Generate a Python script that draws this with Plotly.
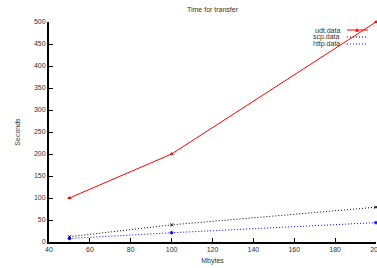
import plotly.graph_objects as go

mbytes = [50, 100, 200]
udt = [100, 200, 500]
scp = [12, 39, 79]
http = [8, 21, 44]
series_names = ["udt.data", "scp.data", "http.data"]
x_ticks = [40, 60, 80, 100, 120, 140, 160, 180, 200]
y_ticks = [0, 50, 100, 150, 200, 250, 300, 350, 400, 450, 500]

FONT = "Liberation Sans, Arial, sans-serif"
TXT = "#333333"
DOT = "1px,2px"

fig = go.Figure()
fig.add_trace(go.Scatter(x=mbytes, y=udt, name=series_names[0], mode="lines+markers",
                         line=dict(color="#ff0000", width=1),
                         marker=dict(symbol="triangle-up", size=4, color="#ff0000"),
                         cliponaxis=False))
fig.add_trace(go.Scatter(x=mbytes, y=scp, name=series_names[1], mode="lines+markers",
                         line=dict(color="#000000", width=1, dash=DOT),
                         marker=dict(symbol="x-thin", size=3, color="#000000",
                                     line=dict(width=1, color="#000000")),
                         cliponaxis=False))
fig.add_trace(go.Scatter(x=mbytes, y=http, name=series_names[2], mode="lines+markers",
                         line=dict(color="#0000ff", width=1, dash=DOT),
                         marker=dict(symbol="asterisk-open", size=3, color="#0000ff",
                                     line=dict(width=1, color="#0000ff")),
                         cliponaxis=False))

# gnuplot-style legend: text on the left, sample on the right
L, R, T, B = 49, 376, 22, 242
def px(x):
    return (x - L) / (R - L)
def py(y):
    return (B - y) / (B - T)

styles = [("#ff0000", "solid"), ("#000000", DOT), ("#0000ff", DOT)]
rows = [30, 37, 44]
for name, (col, dash), yy in zip(series_names, styles, rows):
    fig.add_annotation(x=px(342), y=py(yy), xref="paper", yref="paper", text=name,
                       showarrow=False, xanchor="right", yanchor="middle",
                       font=dict(size=7, color=TXT, family=FONT))
    fig.add_shape(type="line", xref="paper", yref="paper", x0=px(347), x1=px(368),
                  y0=py(yy), y1=py(yy), line=dict(color=col, width=1, dash=dash))
# legend marker for udt
fig.add_shape(type="path", xref="paper", yref="paper",
              path=f"M {px(355.5)} {py(31.5)} L {px(358.5)} {py(31.5)} L {px(357)} {py(28.5)} Z",
              fillcolor="#ff0000", line=dict(color="#ff0000", width=0.5))

fig.update_layout(
    width=377, height=268,
    margin=dict(l=L, r=377 - R, t=T, b=268 - B, autoexpand=False),
    paper_bgcolor="white", plot_bgcolor="white",
    showlegend=False,
    font=dict(family=FONT, size=7, color=TXT),
    title=dict(text="Time for transfer", x=212.5 / 377, xref="container",
               xanchor="center", y=1 - 10 / 268, yref="container", yanchor="middle",
               automargin=False,
               font=dict(size=7, color=TXT, family=FONT)),
    xaxis=dict(range=[40, 200], tickvals=x_ticks, showgrid=False, zeroline=False,
               automargin=False, ticklabeloverflow="allow",
               showline=True, linecolor="#000000", linewidth=2,
               ticks="inside", ticklen=4, tickcolor="#000000", tickwidth=1,
               tickfont=dict(size=7, color=TXT),
               title=dict(text="Mbytes", font=dict(size=7, color=TXT), standoff=6)),
    yaxis=dict(range=[0, 500], tickvals=y_ticks, showgrid=False, zeroline=False,
               automargin=False, ticklabeloverflow="allow",
               showline=True, linecolor="#000000", linewidth=2,
               ticks="inside", ticklen=4, tickcolor="#000000", tickwidth=1,
               tickfont=dict(size=7, color=TXT),
               title=dict(text="Seconds", font=dict(size=7, color=TXT), standoff=12)),
)

fig.write_html("out.html", config={"displayModeBar": False},
               post_script="document.body.style.margin='0';document.body.style.overflow='hidden';")
